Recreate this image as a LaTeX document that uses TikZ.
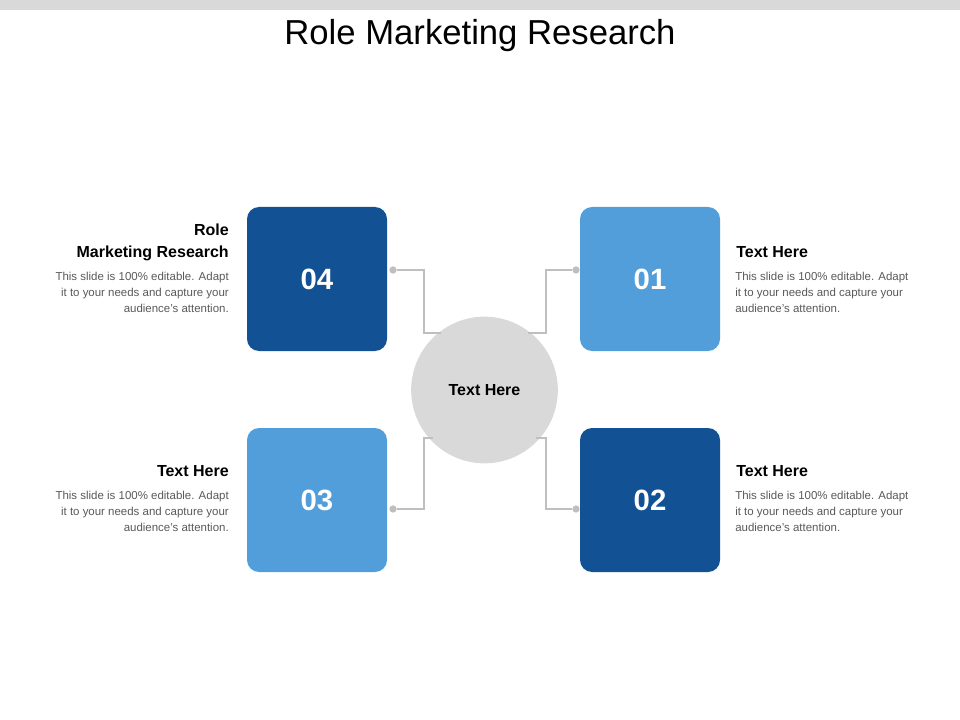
\documentclass[tikz,border=0pt]{standalone}
\usepackage{fontspec}
\setmainfont{Liberation Sans}
\definecolor{dblue}{HTML}{135195}
\definecolor{lblue}{HTML}{529EDB}
\definecolor{cgray}{HTML}{D9D9D9}
\definecolor{lgray}{HTML}{BFBFBF}
\definecolor{tgray}{HTML}{595959}
\begin{document}
\begin{tikzpicture}[x=0.75pt,y=-0.75pt,
  sq/.style={rounded corners=9pt,minimum width=105pt,minimum height=108pt,inner sep=0pt,text=white,font=\fontsize{22}{26}\selectfont\bfseries},
  head/.style={font=\fontsize{12}{16.5}\selectfont\bfseries,inner sep=0pt},
  body/.style={font=\fontsize{8.6}{12}\selectfont,text=tgray,inner sep=0pt},
  conn/.style={draw=lgray,line width=0.8pt},
  dotc/.style={circle,fill=lgray,inner sep=0pt,minimum size=5.5pt}]
\useasboundingbox (0,0) rectangle (960,720);
\fill[cgray] (0,0) rectangle (960,10);
\node (title) at (480,36) {\fontsize{26}{30}\selectfont Role Marketing Research};
\node[sq,fill=dblue] (b4) at (317,279) {04};
\node[sq,fill=lblue] (b1) at (650,279) {01};
\node[sq,fill=lblue] (b3) at (317,500) {03};
\node[sq,fill=dblue] (b2) at (650,500) {02};
\node[circle,fill=cgray,minimum size=110pt,inner sep=0pt] (c) at (484.5,390) {\fontsize{12}{14}\selectfont\bfseries Text Here};
\node[dotc] (d4) at (393,270) {};
\node[dotc] (d1) at (576,270) {};
\node[dotc] (d3) at (393,509) {};
\node[dotc] (d2) at (576,509) {};
\coordinate (e4) at (441,333);
\coordinate (e1) at (528,333);
\coordinate (e3) at (433,438);
\coordinate (e2) at (536,438);
\draw[conn] (d4) -- (424,270) |- (e4);
\draw[conn] (d1) -- (546,270) |- (e1);
\draw[conn] (d3) -- (424,509) |- (e3);
\draw[conn] (d2) -- (546,509) |- (e2);
\node[head,anchor=north east,align=right] (h4) at (229,224) {Role\\Marketing Research};
\node[body,anchor=north east,align=right] (t4) at (229,272) {This slide is 100\% editable. Adapt\\it to your needs and capture your\\audience's attention.};
\node[head,anchor=north west,align=left] (h1) at (736,246) {Text Here};
\node[body,anchor=north west,align=left] (t1) at (735,272) {This slide is 100\% editable. Adapt\\it to your needs and capture your\\audience's attention.};
\node[head,anchor=north east,align=right] (h3) at (229,465) {Text Here};
\node[body,anchor=north east,align=right] (t3) at (229,491) {This slide is 100\% editable. Adapt\\it to your needs and capture your\\audience's attention.};
\node[head,anchor=north west,align=left] (h2) at (736,465) {Text Here};
\node[body,anchor=north west,align=left] (t2) at (735,491) {This slide is 100\% editable. Adapt\\it to your needs and capture your\\audience's attention.};
\end{tikzpicture}
\end{document}
